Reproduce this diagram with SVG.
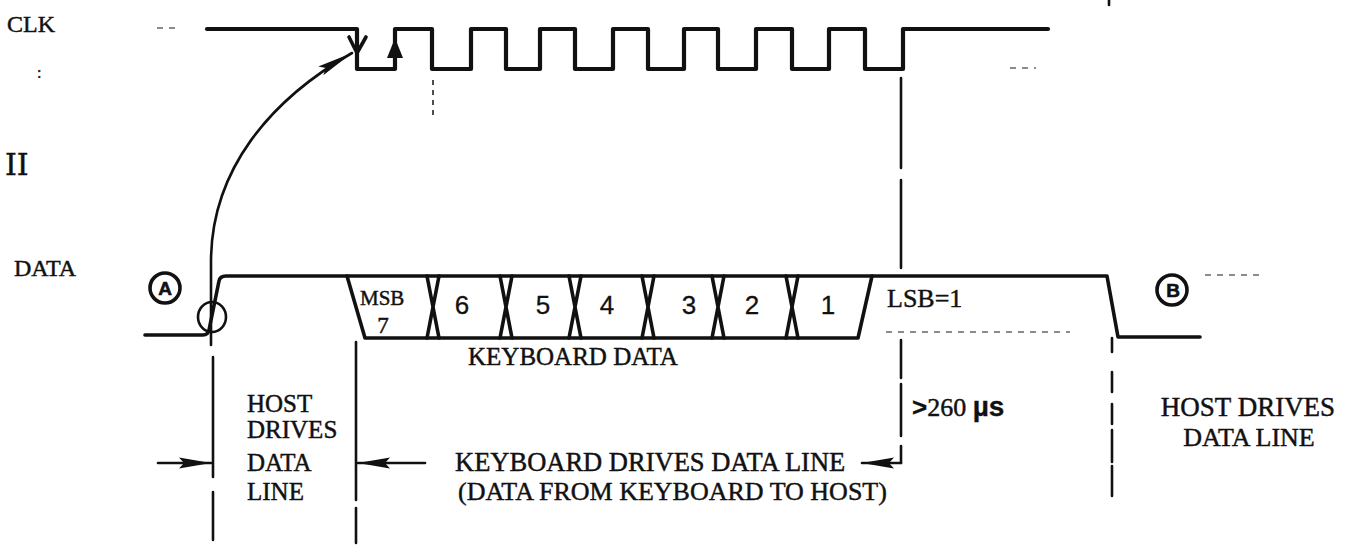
<svg xmlns="http://www.w3.org/2000/svg" width="1351" height="546" viewBox="0 0 1351 546">
<defs>
<style>
.sig{fill:none;stroke:#111;stroke-width:4.2;stroke-linejoin:round;stroke-linecap:round}
.dat{fill:none;stroke:#111;stroke-width:3.6;stroke-linejoin:round;stroke-linecap:round}
.vl{fill:none;stroke:#111;stroke-width:2.6;stroke-linecap:round}
.thin{fill:none;stroke:#222;stroke-width:1.6;stroke-dasharray:5 5}
.faint{fill:none;stroke:#666;stroke-width:1.3;stroke-dasharray:6 6}
.t{font-family:"Liberation Serif","Times New Roman",serif;fill:#111;stroke:#111;stroke-width:0.45}
.d{font-family:"Liberation Sans",Arial,sans-serif;fill:#111;stroke:#111;stroke-width:0.3}
.circ{fill:none;stroke:#111;stroke-width:3.6}
.cl{font-family:"Liberation Sans",Arial,sans-serif;font-weight:bold;fill:#111;stroke:#111;stroke-width:0.6;font-size:19px;text-anchor:middle}
</style>
<marker id="dart" markerUnits="userSpaceOnUse" markerWidth="34" markerHeight="14" refX="32" refY="7" orient="auto"><path d="M0,1.5 L32,7 L0,12.5 L5,7 Z" fill="#111"/></marker>
<marker id="dart2" markerUnits="userSpaceOnUse" markerWidth="38" markerHeight="14" refX="36" refY="7" orient="auto"><path d="M0,2 L36,7 L0,12 L6,7 Z" fill="#111"/></marker>
</defs>
<rect width="1351" height="546" fill="#fff"/>

<g id="labels-left">
<text class="t" x="7" y="32" font-size="24">CLK</text>
<text class="t" x="37" y="78" font-size="16">:</text>
<text class="t" x="5" y="175" font-size="30" style="font-family:'DejaVu Serif',serif">II</text>
<text class="t" x="14" y="276" font-size="24">DATA</text>
</g>

<g id="clk">
<path class="sig" d="M207 29 H357 V69 H395 V29 H432 V69 H471 V29 H506 V69 H540 V29 H575 V69 H613 V29 H648 V69 H684 V29 H718 V69 H756 V29 H792 V69 H829 V29 H865 V69 H903 V29 H1048"/>
<path class="dat" d="M349 37 L357 53 L366 37"/>
<path d="M395 38 L387 58 L403 58 Z" fill="#111"/>
</g>

<g id="data">
<path class="dat" d="M145 335 H203 Q208 335 209 330 L219 281 Q220 276 226 276 H1107 L1118 337 H1200"/>
<path class="dat" d="M347 276 L365 338 H858 L872 276"/>
<path class="dat" d="M427 276 L439 338 M427 338 L439 276 M500 276 L512 338 M500 338 L512 276 M569 276 L581 338 M569 338 L581 276 M642 276 L654 338 M642 338 L654 276 M712 276 L724 338 M712 338 L724 276 M786 276 L798 338 M786 338 L798 276"/>
</g>

<g id="marker-A">
<circle class="circ" cx="165" cy="288" r="15"/>
<text class="cl" x="165" y="295">A</text>
</g>
<g id="marker-B">
<circle class="circ" cx="1172" cy="290" r="15"/>
<text class="cl" x="1173" y="297">B</text>
</g>

<g id="cell-labels">
<text class="t" x="360" y="305" font-size="21">MSB</text>
<text class="t" x="383" y="333" font-size="23" text-anchor="middle">7</text>
<text class="d" x="462" y="314" font-size="26" text-anchor="middle">6</text>
<text class="d" x="543" y="314" font-size="26" text-anchor="middle">5</text>
<text class="d" x="607" y="314" font-size="26" text-anchor="middle">4</text>
<text class="d" x="689" y="314" font-size="26" text-anchor="middle">3</text>
<text class="d" x="752" y="314" font-size="26" text-anchor="middle">2</text>
<text class="d" x="828" y="314" font-size="26" text-anchor="middle">1</text>
<text class="t" x="887" y="307" font-size="26">LSB=1</text>
<text class="t" x="468" y="365" font-size="25">KEYBOARD DATA</text>
</g>

<g id="connectors">
<path class="vl" d="M211 345 V262 C211 170 270 100 352 53" marker-end="url(#dart2)"/>
<ellipse class="vl" cx="212" cy="317" rx="14" ry="15"/>
<path class="thin" d="M433 80 V120"/>
<path class="vl" d="M213 357 V477 M213 492 V540"/>
<path class="vl" d="M356 342 V500 M356 508 V543"/>
<path class="vl" d="M901 78 V168 M901 180 V268 M901 340 V378 M901 384 V436 M901 446 V463"/>
<path class="vl" d="M1112 338 V352 M1112 372 V392 M1112 404 V424 M1112 430 V462 M1112 466 V496"/>
<path class="vl" d="M1109 0 V5"/>
<path class="vl" d="M158 463 H211" marker-end="url(#dart)"/>
<path class="vl" d="M425 463 H358" marker-end="url(#dart)"/>
<path class="vl" d="M901 463 H862" marker-end="url(#dart)"/>
<path class="faint" d="M157 28 H180"/>
<path class="faint" d="M886 332 H1070"/>
<path class="faint" d="M1205 275 H1262"/>
<path class="faint" d="M1010 68 H1036"/>
</g>

<g id="region-labels">
<text class="t" x="247" y="412" font-size="25">HOST</text>
<text class="t" x="247" y="438" font-size="25">DRIVES</text>
<text class="t" x="247" y="471" font-size="25">DATA</text>
<text class="t" x="247" y="500" font-size="25">LINE</text>
<text class="t" x="455" y="471" font-size="26.5">KEYBOARD DRIVES DATA LINE</text>
<text class="t" x="458" y="500" font-size="26">(DATA FROM KEYBOARD TO HOST)</text>
<text class="t" x="912" y="416" font-size="26"><tspan class="d" font-weight="bold">&gt;</tspan>260 <tspan class="d" font-weight="bold" font-size="28">µs</tspan></text>
<text class="t" x="1248" y="416" font-size="27" text-anchor="middle">HOST DRIVES</text>
<text class="t" x="1249" y="446" font-size="26" text-anchor="middle">DATA LINE</text>
</g>
</svg>
